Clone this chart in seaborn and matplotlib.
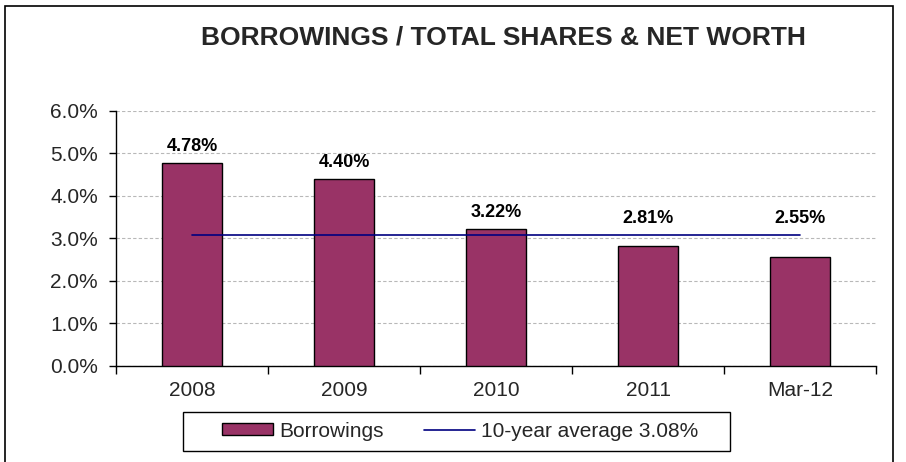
import numpy as np
import pandas as pd
import seaborn as sns
import matplotlib.pyplot as plt
from matplotlib.patches import Rectangle, Patch
from matplotlib.lines import Line2D
from matplotlib.ticker import FuncFormatter, FixedLocator

# data
categories = ["2008", "2009", "2010", "2011", "Mar-12"]
borrowings = [4.78, 4.40, 3.22, 2.81, 2.55]
avg_10yr = 3.08

df = pd.DataFrame({"period": categories, "value": borrowings})

sns.set_theme(style="white")
plt.rcParams["font.family"] = ["Liberation Sans", "DejaVu Sans"]

fig = plt.figure(figsize=(9.06, 4.62), dpi=100)
ax = fig.add_axes([0.128, 0.2085, 0.839, 0.5515])

sns.barplot(data=df, x="period", y="value", color="#993366", width=0.4,
            edgecolor="black", linewidth=1.0, saturation=1, ax=ax, zorder=3)

# average line from first to last category center
ax.plot([0, len(categories) - 1], [avg_10yr, avg_10yr], color="#000080",
        linewidth=1.2, zorder=4)

# bar labels (kept clear of the average line)
for i, v in enumerate(borrowings):
    ax.annotate(f"{v:.2f}%", xy=(i, max(v, avg_10yr)), xytext=(0, 12),
                textcoords="offset points", ha="center", va="center",
                fontsize=13, fontweight="bold", color="black")

ax.set_xlim(-0.5, len(categories) - 0.5)
ax.set_ylim(0, 6)
ax.set_yticks(np.arange(0, 6.5, 1))
ax.yaxis.set_major_formatter(FuncFormatter(lambda y, _: f"{y:.1f}%"))
ax.yaxis.grid(True, linestyle=(0, (3, 2)), color="#b8b8b8", linewidth=0.8)
ax.set_axisbelow(True)

for s in ["top", "right"]:
    ax.spines[s].set_visible(False)
for s in ["left", "bottom"]:
    ax.spines[s].set_color("black")
    ax.spines[s].set_linewidth(1.0)

ax.tick_params(axis="y", which="major", left=True, length=5, width=1,
               color="black", labelsize=15, pad=8)
ax.tick_params(axis="x", which="major", bottom=False, length=0, labelsize=15, pad=11)
ax.xaxis.set_minor_locator(FixedLocator(np.arange(-0.5, len(categories), 1)))
ax.tick_params(axis="x", which="minor", bottom=True, length=6, width=1, color="black")
ax.set_xlabel("")
ax.set_ylabel("")

fig.text(0.556, 0.919, "BORROWINGS / TOTAL SHARES & NET WORTH", ha="center",
         va="center", fontsize=19, fontweight="bold")

handles = [Patch(facecolor="#993366", edgecolor="black", linewidth=1.0),
           Line2D([0], [0], color="#000080", linewidth=1.2)]
leg = fig.legend(handles, ["Borrowings", "10-year average 3.08%"], ncol=2,
                 loc="center", bbox_to_anchor=(0.508, 0.067), fontsize=15,
                 frameon=False, handlelength=2.45, handleheight=0.5,
                 handletextpad=0.3, columnspacing=1.9, borderpad=0,
                 borderaxespad=0)

# legend box (wider than the entries, as in the original)
fig.patches.append(Rectangle((183 / 906, 1 - 451 / 462), 547 / 906, 39 / 462,
                             transform=fig.transFigure, fill=False,
                             edgecolor="black", linewidth=1.0))

# outer chart border
fig.patches.append(Rectangle((5 / 906, -0.05), 888 / 906, 1.05 - 6 / 462,
                             transform=fig.transFigure, fill=False,
                             edgecolor="black", linewidth=1.2))

fig.savefig("out.png", dpi=100)
